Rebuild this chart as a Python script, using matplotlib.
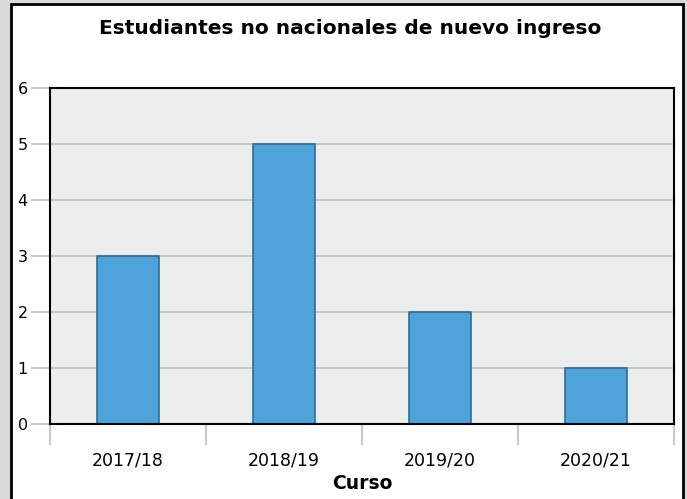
import numpy as np
import matplotlib.pyplot as plt
from matplotlib.patches import Rectangle

# datos
cursos = ["2017/18", "2018/19", "2019/20", "2020/21"]
estudiantes = [3, 5, 2, 1]
titulo = "Estudiantes no nacionales de nuevo ingreso"

fig = plt.figure(figsize=(6.87, 4.99), dpi=100, facecolor="#d9d9d9")

# marco blanco con borde negro
fig.patches.append(Rectangle((11 / 687, -0.05), 672 / 687, 1.05 - 4 / 499,
                             transform=fig.transFigure, facecolor="white",
                             edgecolor="black", lw=2, zorder=-5))

ax = fig.add_axes([50 / 687, 75 / 499, 624 / 687, 336 / 499])
ax.set_zorder(2)
ax.set_facecolor("#eceeee")

x = np.arange(len(cursos))
ax.bar(x, estudiantes, width=0.4, color="#4fa3db", edgecolor="#2e6e96",
       linewidth=1.2, zorder=3)

ax.set_xlim(-0.5, len(cursos) - 0.5)
ax.set_ylim(0, 6)
ax.set_yticks(range(0, 7))
ax.yaxis.grid(True, color="#c8c8c8", lw=1.5, zorder=1)
ax.tick_params(axis="y", length=14, width=1.5, color="#c8c8c8",
               labelsize=11.5, pad=2)

ax.set_xticks(x)
ax.set_xticklabels(cursos)
ax.set_xticks(np.arange(-0.5, len(cursos)), minor=True)
ax.tick_params(axis="x", which="major", length=0, labelsize=12.5, pad=20)
ax.tick_params(axis="x", which="minor", length=15, width=1.5, color="#c8c8c8")

for s in ax.spines.values():
    s.set_color("black")
    s.set_linewidth(1.5)
    s.set_zorder(4)

ax.set_xlabel("Curso", fontsize=13.5, fontweight="bold", labelpad=3)
fig.text(350 / 687, 1 - 28 / 499, titulo, ha="center", va="center",
         fontsize=14.5, fontweight="bold", zorder=5)

fig.savefig("out.png", dpi=100, facecolor=fig.get_facecolor())
